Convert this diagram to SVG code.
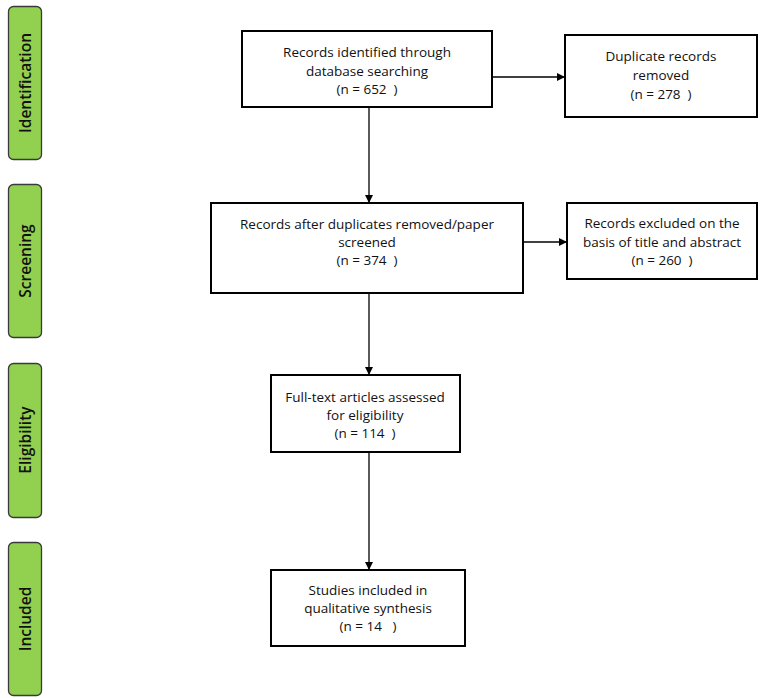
<svg xmlns="http://www.w3.org/2000/svg" width="762" height="698" viewBox="0 0 762 698">
<defs>
<style>
.bar{fill:#92d050;stroke:#3a3a3a;stroke-width:1.3}
.box{fill:#fff;stroke:#000;stroke-width:2}
.t{font-family:"Open Sans","Noto Sans",sans-serif;font-size:13.5px;fill:#111;text-anchor:middle;white-space:pre}
.s{font-family:"Open Sans","Noto Sans",sans-serif;font-size:15.5px;font-weight:600;fill:#111;text-anchor:middle}
.c{stroke:#000;stroke-width:1.3;fill:none;marker-end:url(#ah)}
</style>
<marker id="ah" viewBox="0 0 10 10" refX="10" refY="5" markerWidth="8" markerHeight="8" markerUnits="userSpaceOnUse" orient="auto">
<path d="M0,0 L10,5 L0,10 z" fill="#000"/>
</marker>
</defs>
<rect width="762" height="698" fill="#fff"/>
<g id="stage-identification">
<rect class="bar" x="8.5" y="6.5" width="33" height="153" rx="5"/>
<text class="s" transform="translate(30.5,83) rotate(-90)">Identification</text>
</g>
<g id="stage-screening">
<rect class="bar" x="8.5" y="184.5" width="33" height="153" rx="5"/>
<text class="s" transform="translate(30.5,261) rotate(-90)">Screening</text>
</g>
<g id="stage-eligibility">
<rect class="bar" x="8.5" y="363.5" width="33" height="154" rx="5"/>
<text class="s" transform="translate(30.5,440) rotate(-90)">Eligibility</text>
</g>
<g id="stage-included">
<rect class="bar" x="8.5" y="542.5" width="33" height="153" rx="5"/>
<text class="s" transform="translate(30.5,619) rotate(-90)">Included</text>
</g>
<g id="connectors">
<line class="c" x1="493" y1="77" x2="565" y2="77"/>
<line class="c" x1="369" y1="107" x2="369" y2="203"/>
<line class="c" x1="523" y1="242" x2="567" y2="242"/>
<line class="c" x1="369" y1="293" x2="369" y2="375"/>
<line class="c" x1="369" y1="452" x2="369" y2="570"/>
</g>
<g id="n1">
<rect class="box" x="242" y="31" width="250" height="76"/>
<text class="t" x="367" y="57">Records identified through</text>
<text class="t" x="367" y="76">database searching</text>
<text class="t" x="367" y="94">(n = 652  )</text>
</g>
<g id="n2">
<rect class="box" x="565" y="35" width="192" height="82"/>
<text class="t" x="661" y="61">Duplicate records</text>
<text class="t" x="661" y="80">removed</text>
<text class="t" x="661" y="99">(n = 278  )</text>
</g>
<g id="n3">
<rect class="box" x="211" y="203" width="312" height="90"/>
<text class="t" x="367" y="229">Records after duplicates removed/paper</text>
<text class="t" x="367" y="247">screened</text>
<text class="t" x="367" y="265">(n = 374  )</text>
</g>
<g id="n4">
<rect class="box" x="567" y="203" width="190" height="76"/>
<text class="t" x="662" y="228">Records excluded on the</text>
<text class="t" x="662" y="247">basis of title and abstract</text>
<text class="t" x="662" y="265">(n = 260  )</text>
</g>
<g id="n5">
<rect class="box" x="271" y="375" width="189" height="77"/>
<text class="t" x="365" y="402">Full-text articles assessed</text>
<text class="t" x="365" y="420">for eligibility</text>
<text class="t" x="365" y="438">(n = 114  )</text>
</g>
<g id="n6">
<rect class="box" x="271" y="570" width="194" height="76"/>
<text class="t" x="368" y="595">Studies included in</text>
<text class="t" x="368" y="613">qualitative synthesis</text>
<text class="t" x="368" y="631">(n = 14   )</text>
</g>
</svg>
